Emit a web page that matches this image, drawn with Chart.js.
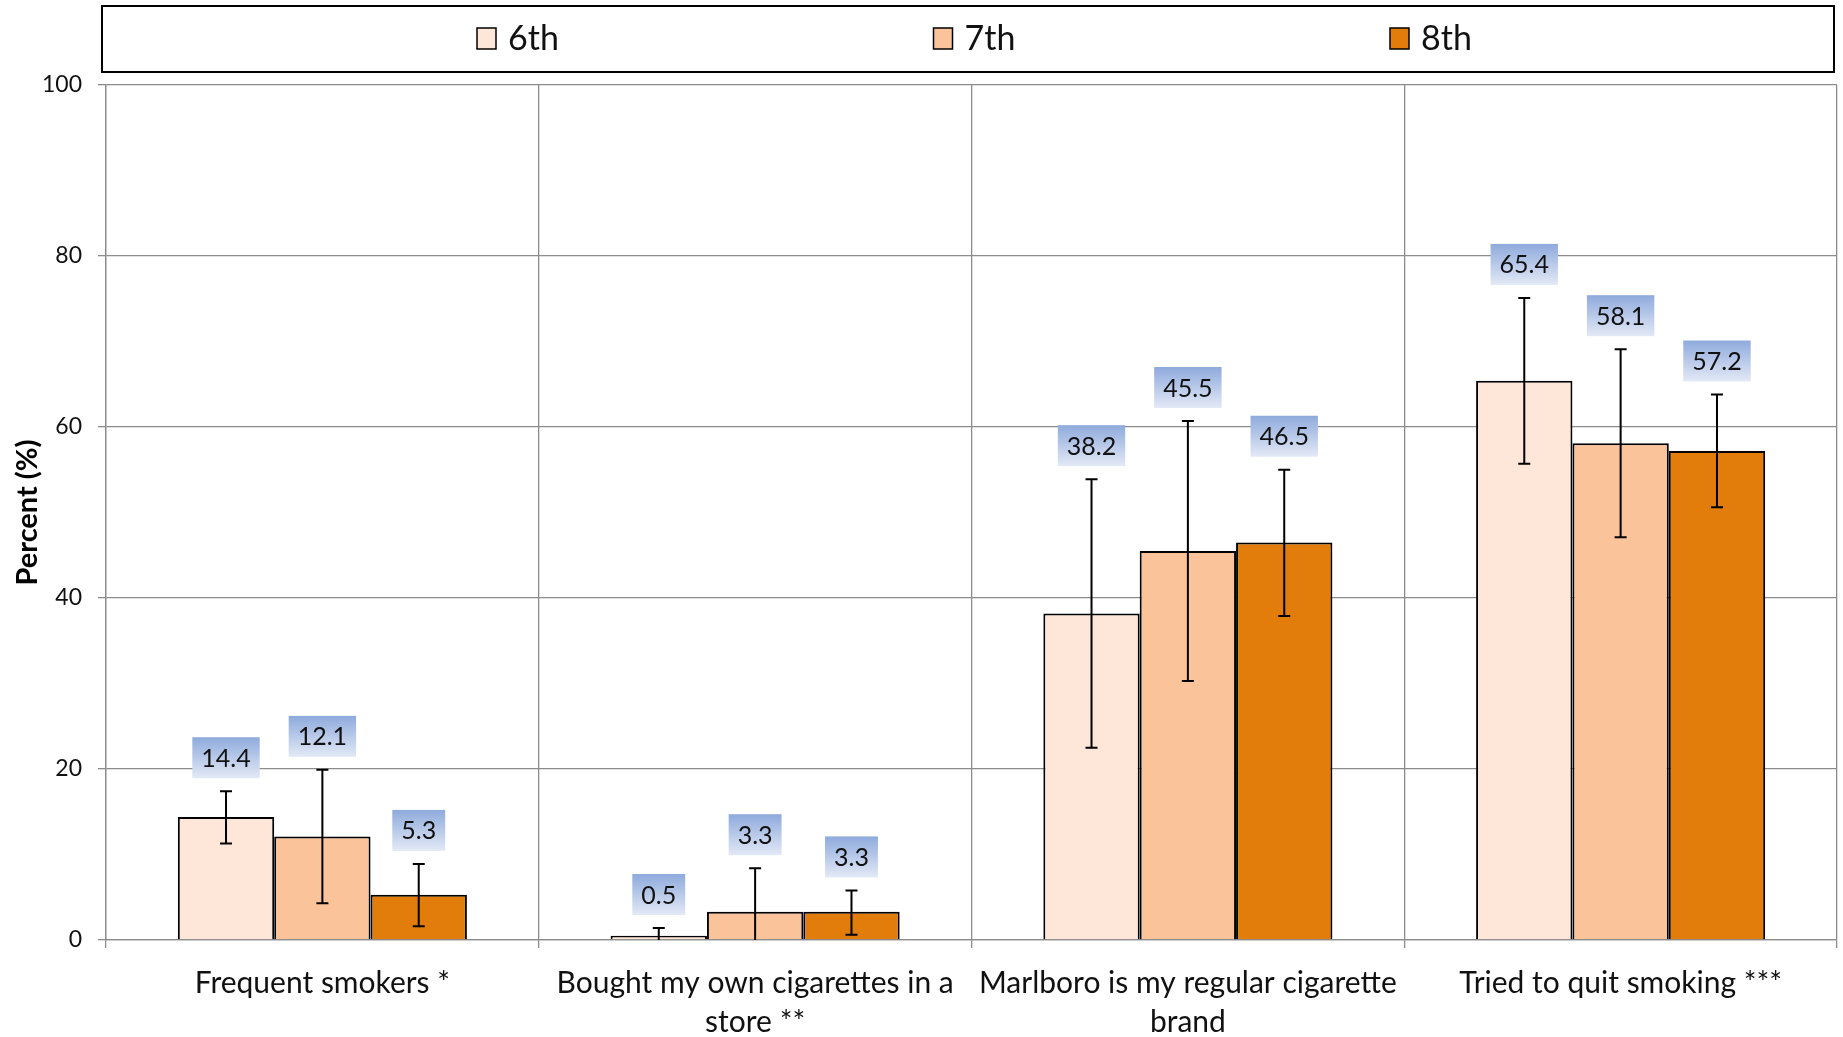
<!DOCTYPE html>
<html>
<head>
<meta charset="utf-8">
<script src="https://cdn.jsdelivr.net/npm/chart.js@4.4.1/dist/chart.umd.min.js"></script>
<style>
  body { margin: 0; background: #fff; }
  canvas { display: block; }
</style>
</head>
<body>
<canvas id="gradeChart" width="1843" height="1037"></canvas>
<script>
// categories and values
const categories = [
  'Frequent smokers *',
  ['Bought my own cigarettes in a', 'store **'],
  ['Marlboro is my regular cigarette', 'brand'],
  'Tried to quit smoking ***'
];
const grades = ['6th', '7th', '8th'];

const grade6 = [14.4, 0.5, 38.2, 65.4];
const grade7 = [12.1, 3.3, 45.5, 58.1];
const grade8 = [5.3, 3.3, 46.5, 57.2];

// confidence interval bounds (lower / upper)
const low6 = [11.3, 0, 22.5, 55.7];
const high6 = [17.4, 1.4, 53.9, 75.1];
const low7 = [4.3, 0, 30.3, 47.1];
const high7 = [19.9, 8.4, 60.7, 69.1];
const low8 = [1.6, 0.6, 37.9, 50.6];
const high8 = [8.9, 5.8, 55.0, 63.8];

const yTicks = [0, 20, 40, 60, 80, 100];

const colors = ['#fee6d8', '#fbc39a', '#e27c0a'];
const FONT = 'Lato, "Open Sans", sans-serif';

const lows = [low6, low7, low8];
const highs = [high6, high7, high8];

// error bars + blue value boxes
const errorBars = {
  id: 'errorBars',
  afterDatasetsDraw(chart) {
    const ctx = chart.ctx;
    const y = chart.scales.y;
    chart.data.datasets.forEach((ds, i) => {
      const meta = chart.getDatasetMeta(i);
      meta.data.forEach((bar, j) => {
        const x = bar.x;
        const yHi = y.getPixelForValue(highs[i][j]);
        const yLo = y.getPixelForValue(lows[i][j]);
        ctx.save();
        ctx.strokeStyle = '#000';
        ctx.lineWidth = 2;
        ctx.beginPath();
        ctx.moveTo(x, yHi); ctx.lineTo(x, yLo);
        ctx.moveTo(x - 6, yHi); ctx.lineTo(x + 6, yHi);
        if (lows[i][j] > 0) { ctx.moveTo(x - 6, yLo); ctx.lineTo(x + 6, yLo); }
        ctx.stroke();

        // label box
        const txt = ds.data[j].toFixed(1);
        ctx.font = '25px ' + FONT;
        const w = ctx.measureText(txt).width + 18;
        const h = 41;
        const bottom = yHi - 13;
        const top = bottom - h;
        const g = ctx.createLinearGradient(0, top, 0, bottom);
        g.addColorStop(0, '#8eaadc');
        g.addColorStop(1, '#e3e9f6');
        ctx.fillStyle = g;
        ctx.fillRect(x - w / 2, top, w, h);
        ctx.fillStyle = '#111';
        ctx.textAlign = 'center';
        ctx.textBaseline = 'middle';
        ctx.fillText(txt, x, top + h / 2 + 1);
        ctx.restore();
      });
    });
  }
};

// boxed legend across the top
const boxLegend = {
  id: 'boxLegend',
  afterDraw(chart) {
    const ctx = chart.ctx;
    ctx.save();
    ctx.strokeStyle = '#000';
    ctx.lineWidth = 2;
    ctx.strokeRect(102, 6, 1732, 66);
    ctx.font = '34px ' + FONT;
    ctx.textBaseline = 'middle';
    chart.data.datasets.forEach((ds, i) => {
      const x0 = 477 + i * 456.5;
      ctx.fillStyle = ds.backgroundColor;
      ctx.fillRect(x0, 28, 19, 21);
      ctx.lineWidth = 1.5;
      ctx.strokeRect(x0, 28, 19, 21);
      ctx.fillStyle = '#111';
      ctx.fillText(ds.label, x0 + 31, 39);
    });
    ctx.restore();
  }
};

const ctx = document.getElementById('gradeChart');
new Chart(ctx, {
  type: 'bar',
  data: {
    labels: categories,
    datasets: [
      { label: grades[0], data: grade6, backgroundColor: colors[0] },
      { label: grades[1], data: grade7, backgroundColor: colors[1] },
      { label: grades[2], data: grade8, backgroundColor: colors[2] }
    ].map(d => Object.assign(d, {
      borderColor: '#000',
      borderWidth: 2,
      categoryPercentage: 0.668,
      barPercentage: 1
    }))
  },
  options: {
    responsive: false,
    animation: false,
    devicePixelRatio: 1,
    layout: { padding: { top: 85, right: 6, left: 0, bottom: 0 } },
    plugins: {
      legend: { display: false },
      tooltip: { enabled: false }
    },
    scales: {
      x: {
        grid: { color: '#8c8c8c', lineWidth: 1.3, tickLength: 8, offset: true },
        border: { color: '#8c8c8c', width: 1.3 },
        ticks: {
          color: '#111', font: { family: FONT, size: 30, lineHeight: 1.3 },
          padding: 16, maxRotation: 0, autoSkip: false
        },
        afterFit(s) { s.height = 97; }
      },
      y: {
        min: 0, max: 100,
        afterBuildTicks(s) { s.ticks = yTicks.map(v => ({ value: v })); },
        grid: { color: '#8c8c8c', lineWidth: 1.3, tickLength: 8 },
        border: { color: '#8c8c8c', width: 1.3 },
        ticks: { color: '#111', font: { family: FONT, size: 23 }, padding: 16 },
        title: {
          display: true, text: 'Percent (%)', color: '#000',
          font: { family: FONT, size: 29, weight: 'bold' },
          padding: { top: 10, bottom: 0 }
        },
        afterFit(s) { s.width = 106; }
      }
    }
  },
  plugins: [errorBars, boxLegend]
});
</script>
</body>
</html>
